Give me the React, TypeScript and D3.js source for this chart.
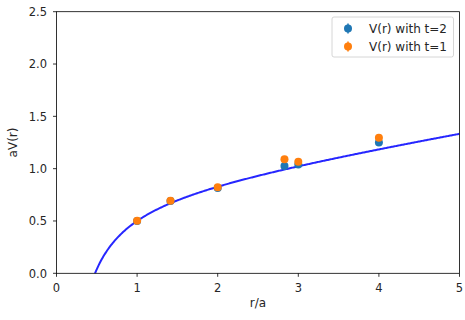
import React from "react";
import * as d3 from "d3";

const rValues = [1, 1.4142, 2, 2.8284, 3, 4];
const vT2 = [0.5, 0.69, 0.815, 1.025, 1.04, 1.25];
const vT1 = [0.503, 0.694, 0.822, 1.09, 1.065, 1.295];
const errT2 = [0.005, 0.006, 0.008, 0.01, 0.01, 0.015];
const errT1 = [0.004, 0.005, 0.006, 0.008, 0.008, 0.012];
// Cornell fit: V(r) = a + sigma*r - e/r
const fitParams = [0.767, 0.129, 0.396];
const xTicks = [0, 1, 2, 3, 4, 5];
const yTicks = [0.0, 0.5, 1.0, 1.5, 2.0, 2.5];
const seriesNames = ["V(r) with t=2", "V(r) with t=1"];
const colors = ["#1f77b4", "#ff7f0e"];

const W = 465, H = 320;
const L = 56.5, R = 459.5, T = 11.7, B = 273.3;

export default function App() {
  const x = d3.scaleLinear().domain([0, 5]).range([L, R]);
  const y = d3.scaleLinear().domain([0, 2.5]).range([B, T]);
  const [a, s, e] = fitParams;
  const fitPts = d3.range(0, 401).map((i) => {
    const r = 0.4 + (i / 400) * 4.6;
    return [r, a + s * r - e / r] as [number, number];
  });
  const line = d3.line<[number, number]>().x((d) => x(d[0])).y((d) => y(d[1]));
  const font = "DejaVu Sans, sans-serif";
  const series = [
    { v: vT2, err: errT2, c: colors[0] },
    { v: vT1, err: errT1, c: colors[1] },
  ];
  return (
    <svg width={W} height={H} style={{ position: "absolute", left: 0, top: 0 }} fontFamily={font}>
      <rect x={0} y={0} width={W} height={H} fill="white" />
      <defs>
        <clipPath id="plotclip">
          <rect x={L} y={T} width={R - L} height={B - T} />
        </clipPath>
      </defs>
      <g clipPath="url(#plotclip)">
        <path d={line(fitPts) || ""} fill="none" stroke="#0000ff" strokeOpacity={0.85} strokeWidth={2} />
        {series.map((sr, si) => (
          <g key={si}>
            {rValues.map((r, i) => (
              <g key={i}>
                <line x1={x(r)} x2={x(r)} y1={y(sr.v[i] - sr.err[i])} y2={y(sr.v[i] + sr.err[i])} stroke={sr.c} strokeWidth={1.5} />
                <circle cx={x(r)} cy={y(sr.v[i])} r={4} fill={sr.c} />
              </g>
            ))}
          </g>
        ))}
      </g>
      <rect x={L} y={T} width={R - L} height={B - T} fill="none" stroke="#000" strokeWidth={0.8} />
      {xTicks.map((t) => (
        <g key={t}>
          <line x1={x(t)} x2={x(t)} y1={B} y2={B + 3.5} stroke="#000" strokeWidth={0.8} />
          <text x={x(t)} y={292} fontSize={11.5} textAnchor="middle" fill="#262626">{t}</text>
        </g>
      ))}
      {yTicks.map((t) => (
        <g key={t}>
          <line x1={L - 3.5} x2={L} y1={y(t)} y2={y(t)} stroke="#000" strokeWidth={0.8} />
          <text x={47} y={y(t) + 4.2} fontSize={11.5} textAnchor="end" fill="#262626">{t.toFixed(1)}</text>
        </g>
      ))}
      <text x={(L + R) / 2} y={307} fontSize={12} textAnchor="middle" fill="#262626">r/a</text>
      <text transform={`translate(17,${(T + B) / 2}) rotate(-90)`} fontSize={12} textAnchor="middle" fill="#262626">aV(r)</text>
      <g>
        <rect x={332} y={17} width={121.5} height={40} rx={2} fill="white" fillOpacity={0.8} stroke="#ccc" strokeWidth={0.8} />
        {seriesNames.map((n, i) => {
          const cy = 28.5 + i * 18;
          return (
            <g key={n}>
              <line x1={348} x2={348} y1={cy - 5} y2={cy + 5} stroke={colors[i]} strokeWidth={1.5} />
              <circle cx={348} cy={cy} r={4} fill={colors[i]} />
              <text x={369} y={cy + 4.3} fontSize={12} fill="#262626">{n}</text>
            </g>
          );
        })}
      </g>
    </svg>
  );
}
